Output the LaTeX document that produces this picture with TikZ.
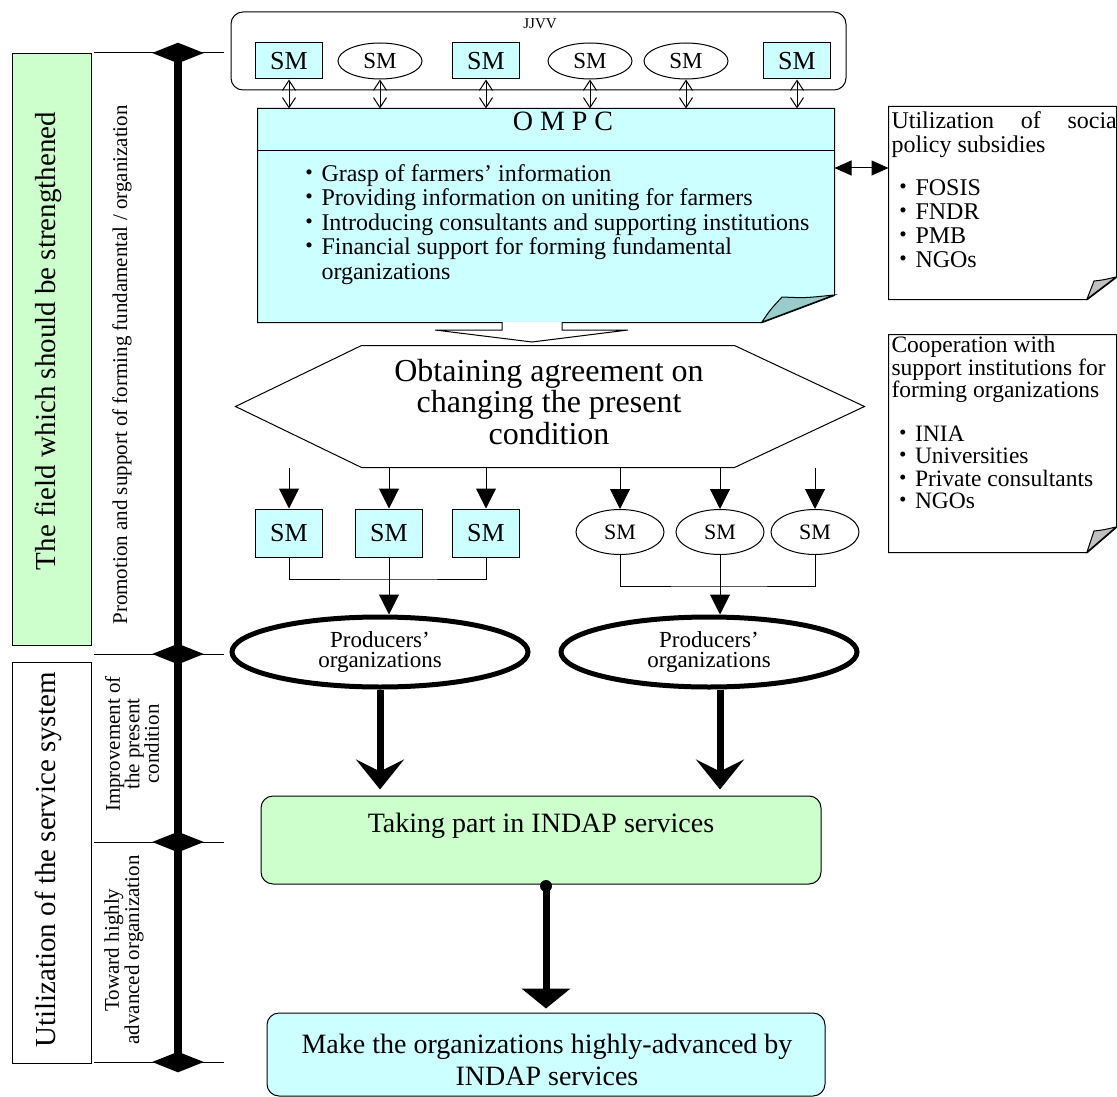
\documentclass[tikz,border=0pt]{standalone}
\usepackage{fontspec}
\setmainfont{Liberation Serif}
\newfontfamily\cjk{Noto Sans CJK JP}
\usetikzlibrary{arrows.meta,shapes.geometric}
\definecolor{smcyan}{HTML}{CCFFFF}
\definecolor{smgreen}{HTML}{CCFFCC}
\definecolor{foldteal}{HTML}{99CCCC}
\definecolor{foldgray}{HTML}{C0C0C0}
\newcommand\fsz[2]{\fontsize{#1}{#2}\selectfont}
\newcommand\dotmark{{\cjk ・}}

\begin{document}
\begin{tikzpicture}[x=1pt,y=-1pt,line width=1pt,
  smbox/.style={draw,fill=smcyan,minimum width=67pt,minimum height=36pt,inner sep=0pt,font=\fsz{26}{26}},
  smoval/.style={draw,ellipse,minimum width=84pt,minimum height=36pt,inner sep=0pt,font=\fsz{23}{23}},
  producer/.style={draw,ellipse,line width=5pt,minimum width=296pt,minimum height=70pt,inner sep=0pt,align=center,font=\fsz{23}{20}},
  twoway/.style={{Straight Barb[length=10pt,width=13pt]}-{Straight Barb[length=10pt,width=13pt]}},
  intoarrow/.style={-{Triangle[length=20pt,width=20pt]}},
  fatarrow/.style={line width=7pt,-{Stealth[length=30pt,width=48pt,inset=12pt]}},
  stagemark/.style={diamond,fill,minimum width=52pt,minimum height=21pt,inner sep=0pt},
  sidebox/.style={draw,minimum width=79pt,inner sep=0pt}]
  \useasboundingbox (0,0) rectangle (1117,1097);

  % left side: fields and stages
  \node[sidebox,fill=smgreen,minimum height=591pt] (fieldbox) at (51.5,349.5) {};
  \node[rotate=90,font=\fsz{29}{29}] (fieldtext) at (48,341) {The field which should be strengthened};
  \node[sidebox,minimum height=401pt] (servicebox) at (51.5,862.5) {};
  \node[rotate=90,font=\fsz{29}{29}] (servicetext) at (48,860) {Utilization of the service system};
  \foreach \y [count=\i] in {53,654,842,1062} {
    \draw (94,\y) -- (224,\y);
    \node[stagemark] (stage\i) at (178,\y) {};
  }
  \draw[line width=8pt] (stage1.center) -- (stage4.center);
  \node[rotate=90,font=\fsz{21}{21}] (promotion) at (122,365) {Promotion and support of forming fundamental / organization};
  \node[rotate=90,align=center,font=\fsz{21}{19.5}] (improve) at (132,744) {Improvement of\\the present\\condition};
  \node[rotate=90,align=center,font=\fsz{21}{14}] (toward) at (124,950) {Toward highly\\advanced organization};

  % JJVV
  \node[draw,rounded corners=12pt,minimum width=615pt,minimum height=78pt] (jjvv) at (538.5,51) {};
  \node[font=\fsz{15}{15}] (jjvvname) at (540,24) {JJVV};
  \foreach \n/\x in {t1/289,t3/486,t6/797}
    \node[smbox] (\n) at (\x,61) {SM};
  \foreach \n/\x in {t2/380,t4/590,t5/686}
    \node[smoval] (\n) at (\x,61) {SM};

  % OMPC
  \node[minimum width=576pt,minimum height=213pt,inner sep=0pt] (ompc) at (546,215.5) {};
  \draw[fill=smcyan] (ompc.north west) -- (ompc.north east) -- ([yshift=27pt]ompc.south east)
    -- ([xshift=-72pt]ompc.south east) -- (ompc.south west) -- cycle;
  \draw[fill=foldteal] (762,322) .. controls (770,310) .. (782,297) .. controls (805,298) .. (834,295) -- cycle;
  \draw ([yshift=-42pt]ompc.north west) -- ([yshift=-42pt]ompc.north east);
  \node[font=\fsz{28}{28}] (ompcname) at (563,121) {O M P C};
  \node[anchor=north west,align=left,inner sep=0pt,font=\fsz{24}{24.5}] (ompctasks) at (297,164)
    {\dotmark Grasp of farmers’ information\\
     \dotmark Providing information on uniting for farmers\\
     \dotmark Introducing consultants and supporting institutions\\
     \dotmark Financial support for forming fundamental\\
     \phantom{\dotmark}organizations};
  \foreach \n in {t1,t2,t3,t4,t5,t6}
    \draw[twoway] (\n.south) -- (\n.south |- ompc.north);
  \draw[fill=white] (502,322) -- (502,330) -- (435,330) -- (532,342) -- (628,330) -- (562,330) -- (562,322);

  % notes on the right
  \node[minimum width=227pt,minimum height=192pt,inner sep=0pt] (subsidy) at (1002.5,203) {};
  \draw[fill=white] (subsidy.north west) -- (subsidy.north east) -- ([yshift=22pt]subsidy.south east)
    -- ([xshift=-29pt]subsidy.south east) -- (subsidy.south west) -- cycle;
  \draw[fill=foldgray] (1087,299) .. controls (1090,290) .. (1094,281) .. controls (1103,280) .. (1116,277) -- cycle;
  \begin{scope}
    \clip (subsidy.north west) rectangle (subsidy.south east);
    \node[anchor=north west,align=left,inner sep=0pt,font=\fsz{24}{24}] (subsidytext) at (891,111)
      {\makebox[232pt][s]{Utilization of social}\\policy subsidies\\[19pt]
       \dotmark FOSIS\\ \dotmark FNDR\\ \dotmark PMB\\ \dotmark NGOs};
  \end{scope}
  \coordinate (linkpt) at (860,168);
  \draw[{Triangle[length=17pt,width=15pt]}-{Triangle[length=17pt,width=15pt]}] (linkpt -| ompc.east) -- (linkpt -| subsidy.west);

  \node[minimum width=227pt,minimum height=217pt,inner sep=0pt] (support) at (1002.5,443.5) {};
  \draw[fill=white] (support.north west) -- (support.north east) -- ([yshift=25pt]support.south east)
    -- ([xshift=-29pt]support.south east) -- (support.south west) -- cycle;
  \draw[fill=foldgray] (1087,552) .. controls (1090,542) .. (1094,531) .. controls (1103,530) .. (1116,527) -- cycle;
  \node[anchor=north west,align=left,inner sep=0pt,font=\fsz{23.5}{22.5}] (supporttext) at (891,336)
    {Cooperation with\\support institutions for\\forming organizations\\[21pt]
     \dotmark INIA\\ \dotmark Universities\\ \dotmark Private consultants\\ \dotmark NGOs};

  % agreement
  \node[minimum width=628pt,minimum height=121pt,inner sep=0pt] (agree) at (550,406.5) {};
  \draw (agree.west) -- ([xshift=126pt]agree.north west) -- ([xshift=-130pt]agree.north east) -- (agree.east)
    -- ([xshift=-130pt]agree.south east) -- ([xshift=126pt]agree.south west) -- cycle;
  \node[align=center,font=\fsz{32}{31.5}] (agreetext) at (549,402) {Obtaining agreement on\\changing the present\\condition};

  % groups of SM
  \foreach \n/\x in {b1/289,b2/389,b3/486}
    \node[smbox,minimum height=48pt] (\n) at (\x,533) {SM};
  \foreach \n/\x in {b4/620,b5/720,b6/815}
    \node[smoval,minimum width=88pt,minimum height=45pt,font=\fsz{22}{22}] (\n) at (\x,532) {SM};
  \foreach \n in {b1,b2,b3,b4,b5,b6}
    \draw[intoarrow] (\n.north |- agree.south) -- (\n.north);

  \node[producer] (prodL) at (380,652) {Producers’\\organizations};
  \node[producer] (prodR) at (709,652) {Producers’\\organizations};
  \coordinate (joinL) at (389,579);
  \coordinate (joinR) at (720,586);
  \draw (b1.south) |- (joinL) -| (b3.south);
  \draw (b2.south) -- (joinL);
  \draw (b4.south) |- (joinR) -| (b6.south);
  \draw (b5.south) -- (joinR);
  \draw[intoarrow] (joinL) -- (joinL |- prodL.north);
  \draw[intoarrow] (joinR) -- (joinR |- prodR.north);

  % INDAP services
  \node[draw,fill=smgreen,rounded corners=12pt,minimum width=560pt,minimum height=88pt] (taking) at (541,840) {};
  \node[font=\fsz{28}{28}] (takingtext) at (541,826) {Taking part in INDAP services};
  \node[draw,fill=smcyan,rounded corners=12pt,minimum width=558pt,minimum height=83pt] (advanced) at (546,1054.5) {};
  \node[align=center,font=\fsz{28}{32}] (advancedtext) at (547,1059.5) {Make the organizations highly-advanced by\\INDAP services};
  \draw[fatarrow,shorten >=6pt] (prodL.south) -- (prodL.south |- taking.north);
  \draw[fatarrow,shorten >=6pt] (joinR |- prodR.south) -- (joinR |- taking.north);
  \coordinate (dotpt) at (546,886);
  \fill (dotpt) circle (6pt);
  \draw[line width=7pt,-{Triangle[length=20pt,width=48pt]},shorten >=4pt] (dotpt) -- (dotpt |- advanced.north);
\end{tikzpicture}
\end{document}
